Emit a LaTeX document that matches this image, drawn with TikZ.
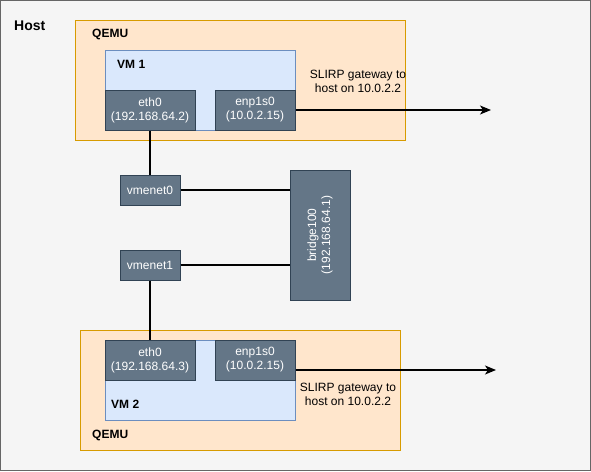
\documentclass[tikz,border=0pt]{standalone}
\usepackage{fontspec}
\setmainfont{Liberation Sans}
\usetikzlibrary{arrows.meta}
\definecolor{hostfill}{HTML}{F5F5F5}
\definecolor{hostline}{HTML}{666666}
\definecolor{qemufill}{HTML}{FFE6CC}
\definecolor{qemuline}{HTML}{D79B00}
\definecolor{vmfill}{HTML}{DAE8FC}
\definecolor{vmline}{HTML}{6C8EBF}
\definecolor{iffill}{HTML}{647687}
\definecolor{ifline}{HTML}{314354}
\begin{document}
\begin{tikzpicture}[x=1pt,y=-1pt,
  every node/.style={font=\fontsize{12}{14}\selectfont},
  hostbox/.style={draw=hostline,fill=hostfill,line width=1pt},
  qemubox/.style={draw=qemuline,fill=qemufill,line width=1pt},
  vmbox/.style={draw=vmline,fill=vmfill,line width=1pt},
  iface/.style={draw=ifline,fill=iffill,text=white,line width=1pt,
    inner sep=0pt,align=center,minimum height=40pt},
  tapif/.style={iface,minimum width=60pt,minimum height=30pt},
  title/.style={font=\bfseries\fontsize{12}{14}\selectfont,anchor=west,inner sep=0pt},
  link/.style={draw=black,line width=1.5pt},
  gwlink/.style={link,-{Stealth[length=11pt,width=9pt,inset=3pt]}},
  note/.style={align=center,inner sep=0pt}]
\useasboundingbox (0,0) rectangle (591,471);
% host machine
\draw[hostbox] (0.5,0.5) rectangle (590,470);
\node[title,font=\bfseries\fontsize{14}{16}\selectfont] (host) at (14,26) {Host};

% first QEMU process with VM 1
\draw[qemubox] (75,20) rectangle (405,140);
\node[title] (q1) at (92,34.5) {QEMU};
\draw[vmbox] (105,50) rectangle (295,130);
\node[title] (vm1) at (117,64.5) {VM 1};
\node[iface,minimum width=90pt] (eth1) at (150,110) {eth0\\(192.168.64.2)};
\node[iface,minimum width=80pt] (enp1) at (255,110) {enp1s0\\(10.0.2.15)};
\node[note] (slirp1) at (358,81.5) {SLIRP gateway to\\host on 10.0.2.2};
\coordinate (gw1) at (491,110);

% host-side tap interfaces and bridge
\node[tapif] (v0) at (150,190) {vmenet0};
\node[tapif] (v1) at (150,265) {vmenet1};
\node[iface,minimum width=60pt,minimum height=130pt] (br) at (320,235) {};
\node[rotate=90,text=white,align=center,inner sep=0pt] (brlabel) at (br) {bridge100\\(192.168.64.1)};

% second QEMU process with VM 2
\draw[qemubox] (80,330) rectangle (400,450);
\node[title] (q2) at (92,435.5) {QEMU};
\draw[vmbox] (105,340) rectangle (295,420);
\node[title] (vm2) at (111,404.5) {VM 2};
\node[iface,minimum width=90pt] (eth2) at (150,360) {eth0\\(192.168.64.3)};
\node[iface,minimum width=80pt] (enp2) at (255,360) {enp1s0\\(10.0.2.15)};
\node[note] (slirp2) at (348,394.5) {SLIRP gateway to\\host on 10.0.2.2};
\coordinate (gw2) at (496,370);

% connections
\draw[link] (eth1) -- (v0);
\draw[link] (v1) -- (eth2);
\draw[link] (v0.east) -- (v0.east -| br.west);
\draw[link] (v1.east) -- (v1.east -| br.west);
\draw[gwlink] (enp1.east) -- (gw1);
\draw[gwlink] (enp2.east |- gw2) -- (gw2);
\end{tikzpicture}
\end{document}
